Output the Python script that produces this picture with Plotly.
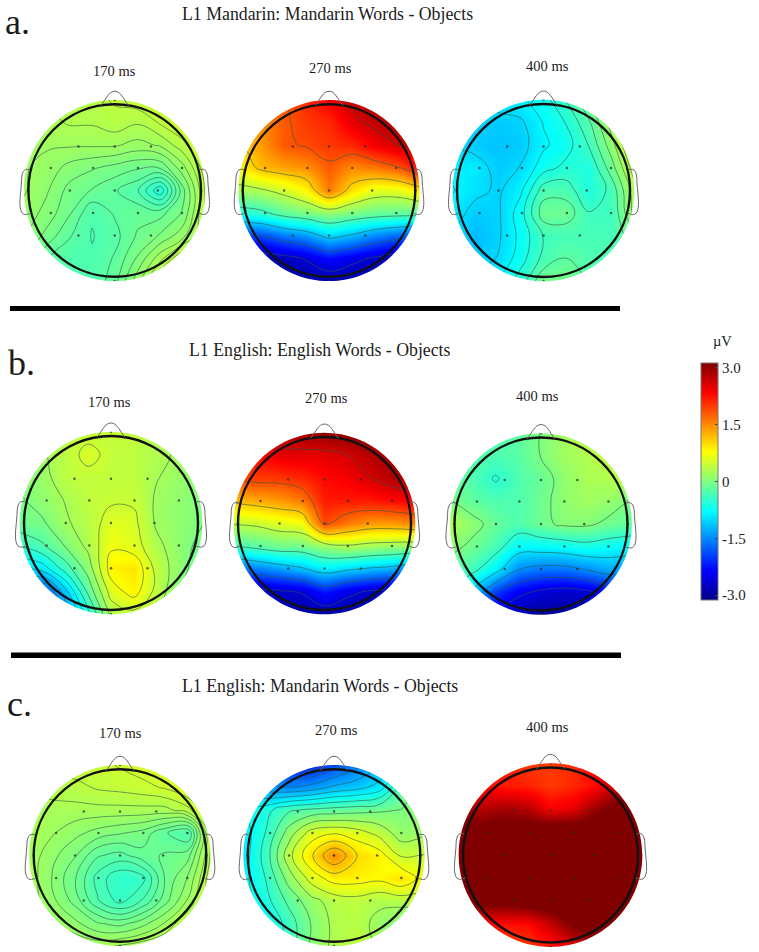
import plotly.graph_objects as go

W, H = 759, 952
SERIF = "Liberation Serif"
INK = "#1c1c1c"

GRID = [-1.05, -0.7875, -0.525, -0.2625, 0, 0.2625, 0.525, 0.7875, 1.05]

# Rows run from the front of the head (top) to the back (bottom), microvolts.
A_170 = [
    [.3, .3, .3, .35, .4, .45, .5, .5, .5],
    [.25, .25, .3, .3, .35, .3, .4, .5, .6],
    [.2, .2, .2, .2, .2, .15, .2, .35, .55],
    [.2, .15, .05, 0, -.05, -.1, -.1, .15, .45],
    [.2, .1, -.05, -.12, -.2, -.3, -.6, -.05, .4],
    [.15, .05, -.1, -.3, -.2, -.15, -.15, 0, .4],
    [.1, -.05, -.2, -.32, -.25, -.1, 0, .15, .4],
    [0, -.2, -.3, -.3, -.2, 0, .25, .5, .6],
    [-.1, -.2, -.3, -.3, -.15, .15, .5, .7, .7],
]
A_270 = [
    [1.5, 1.6, 1.8, 2.1, 2.4, 2.7, 2.9, 3, 3],
    [1.2, 1.5, 1.8, 2.0, 2.1, 2.5, 2.7, 2.9, 3],
    [1.0, 1.4, 1.8, 1.9, 2.0, 2.1, 2.4, 2.6, 2.8],
    [.8, 1.2, 1.35, 1.45, 1.8, 1.5, 1.6, 1.8, 2.3],
    [.2, .3, .5, .8, 1.6, .95, .6, .6, .9],
    [-.6, -.5, -.2, -.05, .1, -.05, -.15, -.2, -.2],
    [-2, -1.9, -1.6, -1.4, -1.0, -1.2, -1.5, -1.7, -1.9],
    [-3, -2.9, -2.8, -2.6, -2.3, -2.5, -2.7, -2.9, -3],
    [-3.2, -3.2, -3, -3, -2.9, -3, -3, -3.2, -3.2],
]
A_400 = [
    [-1, -1, -.9, -.85, -.7, -.4, 0, .5, .9],
    [-1, -1.05, -1.1, -1.05, -.8, -.6, -.25, .3, .8],
    [-1, -1.1, -1.15, -1.1, -.85, -.7, -.4, .1, .7],
    [-.85, -.9, -1.1, -1.0, -.7, -.55, -.6, -.1, .5],
    [-.8, -.95, -1.05, -.85, -.3, -.3, -.6, -.35, .3],
    [-.9, -1.1, -1.05, -.7, -.1, -.1, -.4, -.4, .25],
    [-1.0, -1.2, -1.05, -.75, -.4, -.35, -.35, -.35, -.1],
    [-1, -1.1, -1, -.7, -.35, -.2, -.3, -.3, -.2],
    [-.9, -.9, -.8, -.5, -.05, -.05, -.2, -.2, -.2],
]
B_170 = [
    [.2, .25, .35, .4, .42, .42, .3, .2, .1],
    [.1, .2, .38, .56, .42, .38, .3, .2, .1],
    [.05, .15, .38, .42, .4, .4, .25, .15, .05],
    [-.05, .1, .25, .4, .45, .45, .2, .1, 0],
    [-.1, -.05, .2, .35, .6, .55, .2, .1, 0],
    [-.5, -.3, 0, .3, .7, .6, .3, .1, -.1],
    [-1, -.9, -.4, .1, .85, .95, .4, .1, -.2],
    [-1.5, -1.9, -1.1, -.2, .6, .85, .4, 0, -.3],
    [-1.7, -2.2, -1.5, -.6, .3, .4, .25, 0, -.2],
]
B_270 = [
    [2.4, 2.6, 2.8, 2.9, 3, 3.1, 3.2, 3.2, 3.2],
    [2.2, 2.3, 2.5, 2.5, 2.5, 2.6, 2.8, 3.0, 3.1],
    [1.9, 2.0, 2.0, 2.1, 2.3, 2.4, 2.6, 2.8, 2.9],
    [1.2, 1.3, 1.4, 1.6, 2.2, 2.2, 2.2, 2.3, 2.4],
    [.4, .45, .6, .7, 1.9, 1.6, 1.4, 1.4, 1.5],
    [-.4, -.25, -.1, -.1, .15, .3, .2, .15, .1],
    [-1.8, -1.6, -1.4, -1.2, -.9, -1.05, -1.2, -1.3, -1.6],
    [-2.9, -2.8, -2.7, -2.6, -2.2, -2.5, -2.7, -2.8, -3],
    [-3.2, -3.1, -3, -3, -2.9, -3, -3.1, -3.2, -3.2],
]
B_400 = [
    [-.1, -.2, -.3, -.2, 0, .2, .35, .45, .5],
    [-.1, -.25, -.3, -.25, 0, .2, .3, .4, .45],
    [-.15, -.3, -.55, -.3, -.15, .1, .25, .3, .3],
    [0, -.2, -.3, -.3, -.1, .1, .2, .15, -.05],
    [.3, .1, -.15, -.3, -.1, .05, .05, -.1, -.2],
    [.1, -.1, -.35, -.8, -.8, -.75, -.65, -.75, -.8],
    [-.2, -.4, -.85, -1.5, -1.65, -1.65, -1.5, -1.3, -1.4],
    [-.6, -1.1, -2.0, -2.4, -2.6, -2.7, -2.6, -2.3, -2],
    [-1, -1.8, -2.6, -2.9, -3, -3, -3, -2.8, -2.5],
]
C_170 = [
    [.45, .45, .45, .45, .5, .55, .6, .7, .7],
    [.3, .33, .35, .4, .42, .45, .5, .6, .7],
    [.25, .25, .25, .25, .25, .25, .25, .35, .6],
    [.25, .2, .12, .05, 0, -.05, -.2, -.32, .45],
    [.25, .12, 0, -.2, -.25, -.15, -.1, -.05, .4],
    [.25, .08, -.1, -.35, -.5, -.45, -.1, .1, .45],
    [.25, .12, -.05, -.3, -.45, -.3, -.05, .2, .5],
    [.3, .2, .12, 0, -.05, .05, .2, .4, .6],
    [.35, .3, .27, .25, .3, .35, .4, .55, .7],
]
C_270 = [
    [-1.5, -1.9, -2.2, -2.2, -1.9, -1.6, -1.3, -.8, -.5],
    [-1.2, -1.4, -1.5, -1.4, -1.2, -1.1, -.9, -.2, .1],
    [-.8, -.6, -.3, -.2, -.15, -.1, -.05, 0, .1],
    [-.9, -.5, .1, .6, .7, .6, .4, .1, .2],
    [-.9, -.4, .4, .95, 1.5, 1.0, .85, .45, .5],
    [-.85, -.5, .1, .6, .85, .85, .8, .95, .6],
    [-.9, -.6, -.2, .15, .35, .4, .3, .35, .4],
    [-1.0, -.8, -.4, 0, .3, .35, .15, -.05, -.1],
    [-1.0, -.8, -.4, .05, .3, .4, .2, -.1, -.2],
]
C_400 = [
    [2.6, 2.4, 2.2, 2.0, 2.0, 2.1, 2.4, 2.7, 3],
    [2.6, 2.3, 2.2, 2.15, 2.0, 2.1, 2.3, 2.8, 3.2],
    [3.1, 2.8, 2.9, 2.8, 2.4, 2.5, 3, 3.3, 3.3],
    [3.2, 3.3, 3.4, 3.4, 3.5, 3.5, 3.5, 3.5, 3.4],
    [3.3, 3.5, 3.6, 3.6, 3.6, 3.6, 3.6, 3.6, 3.5],
    [3.3, 3.5, 3.6, 3.6, 3.6, 3.6, 3.6, 3.5, 3.4],
    [3.1, 3.3, 3.3, 3.4, 3.5, 3.6, 3.5, 3.4, 3.3],
    [2.3, 2.4, 2.3, 2.3, 2.7, 3.2, 3.3, 3.2, 3.2],
    [1.5, 1.6, 1.9, 2.0, 2.2, 2.5, 3, 3, 3],
]

ELECTRODE_X = [0, -.42, 0, .42, -.74, -.25, .27, .78, -1, -.52, 0, .5, 1, -.74, -.25, .27, .78, -.42, 0, .42, 0]
ELECTRODE_Y = [1.05, .51, .51, .51, .26, .26, .26, .26, 0, 0, 0, 0, 0, -.26, -.26, -.26, -.26, -.52, -.52, -.52, -1.05]

COLOR_TICKS = [3, 1.5, 0, -1.5, -3]
COLOR_TICK_TEXT = ["3.0", "1.5", "0", "-1.5", "-3.0"]

# map layout: data, contour step (None = no lines), head centre x, y and radius in page pixels,
# time label and its position
MAPS = [
    (A_170, .1, 114.7, 190.5, 86.3, "170 ms", 114, 71),
    (A_270, .75, 329, 190.5, 86.3, "270 ms", 330, 68),
    (A_400, .2, 543.5, 190.5, 86.5, "400 ms", 547, 66),
    (B_170, .25, 111, 523, 87, "170 ms", 109, 402),
    (B_270, .75, 324.5, 523.5, 86.5, "270 ms", 326, 398),
    (B_400, .5, 541, 524, 86.5, "400 ms", 537, 396),
    (C_170, .1, 120, 855.5, 86.3, "170 ms", 120, 733),
    (C_270, .25, 334, 855.5, 86.3, "270 ms", 336, 730),
    (C_400, None, 550.5, 855, 87.5, "400 ms", 547, 727),
]
JET = [[0, "rgb(0,0,135)"], [.125, "rgb(0,0,255)"], [.375, "rgb(0,255,255)"],
       [.625, "rgb(255,255,0)"], [.875, "rgb(255,0,0)"], [1, "rgb(128,0,0)"]]
PAD_TOP, PAD_BOTTOM = 1.2, 1.1
Z_LIMIT = 3.13


def px(x):
    return x / W


def py(y):
    return 1 - y / H


def circle_path(r):
    k = 0.5523 * r
    return (f"M {-r} 0 C {-r} {k} {-k} {r} 0 {r} C {k} {r} {r} {k} {r} 0 "
            f"C {r} {-k} {k} {-r} 0 {-r} C {-k} {-r} {-r} {-k} {-r} 0 Z")


NOSE = "M -.16 .985 C -.1 1.06 -.07 1.15 0 1.15 C .07 1.15 .1 1.06 .16 .985"
EAR_L = "M -.985 .24 C -1.06 .27 -1.08 .2 -1.08 .1 C -1.09 -.05 -1.11 -.15 -1.09 -.22 C -1.07 -.3 -1.02 -.28 -.97 -.26"
EAR_R = "M .985 .24 C 1.06 .27 1.08 .2 1.08 .1 C 1.09 -.05 1.11 -.15 1.09 -.22 C 1.07 -.3 1.02 -.28 .97 -.26"

fig = go.Figure()
layout = {}
shapes = []
annotations = []


def label_at(text, x, y, size, anchor="center"):
    annotations.append(dict(text=text, x=px(x), y=py(y), xref="paper", yref="paper",
                            xanchor=anchor, yanchor="middle", showarrow=False,
                            font=dict(family=SERIF, size=size, color=INK)))


for i, (z, step, cx, cy, r, label, lx, ly) in enumerate(MAPS):
    n = "" if i == 0 else str(i + 1)
    xa, ya = "x" + n, "y" + n
    z_up = z[::-1]
    fig.add_trace(go.Heatmap(
        x=GRID, y=GRID, z=z_up, xaxis=xa, yaxis=ya, zmin=-Z_LIMIT, zmax=Z_LIMIT, colorscale=JET,
        zsmooth="best", hoverinfo="skip", showscale=i == 0,
        colorbar=dict(
            x=px(701), xanchor="left", xpad=0, y=py(481.5), yanchor="middle", ypad=0,
            thickness=17, thicknessmode="pixels", len=237, lenmode="pixels",
            tickvals=COLOR_TICKS, ticktext=COLOR_TICK_TEXT, ticks="inside", ticklen=3,
            tickcolor="#444", outlinecolor="#777", outlinewidth=1,
            tickfont=dict(family=SERIF, size=15, color=INK),
        ),
    ))
    if step is not None:
        fig.add_trace(go.Contour(
            x=GRID, y=GRID, z=z_up, xaxis=xa, yaxis=ya, showscale=False, hoverinfo="skip",
            contours=dict(coloring="none", start=-3.013 + (step / 2 if step == .75 else 0), end=3, size=step),
            line=dict(color="rgba(45,90,75,0.6)", width=1, smoothing=1.2),
        ))
    fig.add_trace(go.Scatter(
        x=ELECTRODE_X, y=ELECTRODE_Y, xaxis=xa, yaxis=ya, mode="markers", hoverinfo="skip",
        marker=dict(size=2.5, color="rgba(40,50,40,0.75)"), showlegend=False,
    ))
    sfx = "" if i == 0 else str(i + 1)
    common = dict(visible=False, fixedrange=True)
    layout["xaxis" + sfx] = dict(domain=[px(cx - PAD_TOP * r), px(cx + PAD_TOP * r)],
                                 range=[-PAD_TOP, PAD_TOP], **common)
    layout["yaxis" + sfx] = dict(domain=[py(cy + PAD_BOTTOM * r), py(cy - PAD_TOP * r)],
                                 range=[-PAD_BOTTOM, PAD_TOP], **common)
    s = 1.25
    ring = f"M {-s} {-s} L {s} {-s} L {s} {s} L {-s} {s} Z " + circle_path(1.05)
    shapes.append(dict(type="path", xref=xa, yref=ya, path=ring, fillcolor="white",
                       line=dict(width=0), layer="above"))
    # page-level strip hides the clipped edge of the colour image under the head
    shapes.append(dict(type="rect", xref="paper", yref="paper",
                       x0=px(cx - PAD_TOP * r), x1=px(cx + PAD_TOP * r),
                       y0=max(0, py(cy + (PAD_BOTTOM + .03) * r)), y1=py(cy + (PAD_BOTTOM - .03) * r),
                       fillcolor="white", line=dict(width=0), layer="above"))
    shapes.append(dict(type="path", xref=xa, yref=ya, path=circle_path(1.0),
                       line=dict(color="#111", width=2.4), layer="above"))
    for p in (NOSE, EAR_L, EAR_R):
        shapes.append(dict(type="path", xref=xa, yref=ya, path=p,
                           line=dict(color="#666", width=1), layer="above"))
    label_at(label, lx, ly, 14.5)

# panel letters and headings
for text, x, y in [("a.", 3, 22), ("b.", 6, 363), ("c.", 5, 704)]:
    label_at(text, x, y, 36, "left")
for text, x, y in [("L1 Mandarin: Mandarin Words - Objects", 327, 14),
                   ("L1 English: English Words - Objects", 320, 350),
                   ("L1 English: Mandarin Words - Objects", 320, 686)]:
    label_at(text, x, y, 17.8)
label_at("µV", 722, 341, 14.5)

# separators
for x0, x1, y0, y1 in [(10, 620, 306, 311), (11, 621, 652.5, 658)]:
    shapes.append(dict(type="rect", xref="paper", yref="paper", x0=px(x0), x1=px(x1),
                       y0=py(y1), y1=py(y0), fillcolor="black", line=dict(width=0)))

fig.update_layout(width=W, height=H, margin=dict(l=0, r=0, t=0, b=0), paper_bgcolor="white",
                  plot_bgcolor="white", showlegend=False, shapes=shapes, annotations=annotations,
                  **layout)

fig.write_html("out.html", config={"displayModeBar": False},
               post_script="document.body.style.margin='0';document.body.style.overflow='hidden';")
